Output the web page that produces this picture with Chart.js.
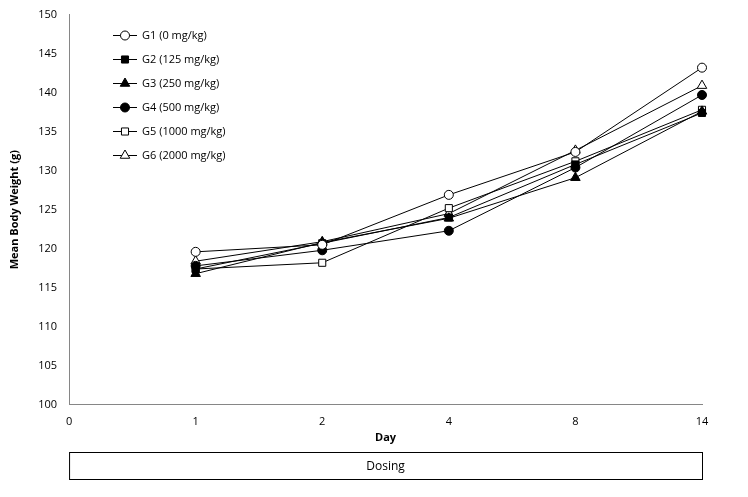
<!DOCTYPE html>
<html>
<head>
<meta charset="utf-8">
<script src="https://cdn.jsdelivr.net/npm/chart.js@4.4.1/dist/chart.umd.min.js"></script>
<style>
  html, body { margin: 0; padding: 0; background: #fff; }
  #wrap { width: 748px; height: 497px; position: relative; }
</style>
</head>
<body>
<div id="wrap"><canvas id="canvas" width="748" height="497"></canvas></div>
<script>
// data
var days = ['0', '1', '2', '4', '8', '14'];
var groupNames = ['G1 (0 mg/kg)', 'G2 (125 mg/kg)', 'G3 (250 mg/kg)', 'G4 (500 mg/kg)', 'G5 (1000 mg/kg)', 'G6 (2000 mg/kg)'];
var g1 = [null, 119.6, 120.5, 126.9, 132.4, 143.2];
var g2 = [null, 117.4, 120.7, 124.0, 130.8, 137.4];
var g3 = [null, 116.8, 120.8, 123.9, 129.1, 137.6];
var g4 = [null, 117.8, 119.8, 122.3, 130.4, 139.7];
var g5 = [null, 117.4, 118.2, 125.2, 131.2, 137.8];
var g6 = [null, 118.4, 120.9, 124.5, 132.6, 140.9];
var yTicks = [100, 105, 110, 115, 120, 125, 130, 135, 140, 145, 150];

var FONT = "'Open Sans', 'Liberation Sans', sans-serif";

var styles = [
  { pointStyle: 'circle', fill: '#ffffff', r: 4.5 },
  { pointStyle: 'rect', fill: '#000000', r: 5 },
  { pointStyle: 'triangle', fill: '#000000', r: 5.5 },
  { pointStyle: 'circle', fill: '#000000', r: 4.5 },
  { pointStyle: 'rect', fill: '#ffffff', r: 5 },
  { pointStyle: 'triangle', fill: '#ffffff', r: 5.5 }
];

var series = [g1, g2, g3, g4, g5, g6];
var datasets = series.map(function (vals, i) {
  return {
    label: groupNames[i],
    data: vals,
    borderColor: '#000000',
    borderWidth: 1,
    backgroundColor: styles[i].fill,
    pointStyle: styles[i].pointStyle,
    pointRadius: styles[i].r,
    pointHoverRadius: styles[i].r,
    pointBackgroundColor: styles[i].fill,
    pointBorderColor: '#000000',
    pointBorderWidth: 1,
    tension: 0,
    fill: false
  };
});

// legend inside the plot with a line through each marker
var insideLegend = {
  id: 'insideLegend',
  afterDraw: function (chart) {
    var ctx = chart.ctx;
    var x0 = 113, y0 = 35, step = 24;
    ctx.save();
    chart.data.datasets.forEach(function (ds, i) {
      var y = y0 + i * step;
      ctx.strokeStyle = '#000';
      ctx.lineWidth = 1;
      ctx.beginPath();
      ctx.moveTo(x0, y + 0.5);
      ctx.lineTo(x0 + 24, y + 0.5);
      ctx.stroke();
      ctx.fillStyle = ds.pointBackgroundColor;
      Chart.helpers.drawPoint(ctx, {
        pointStyle: ds.pointStyle,
        radius: ds.pointRadius,
        borderWidth: 1
      }, x0 + 12, y + 0.5);
      ctx.fillStyle = '#000';
      ctx.font = '11px ' + FONT;
      ctx.textBaseline = 'middle';
      ctx.textAlign = 'left';
      ctx.fillText(ds.label, x0 + 29, y + 0.5);
    });
    ctx.restore();
  }
};

// "Day" axis title and the "Dosing" period box under the x axis
var dosingBox = {
  id: 'dosingBox',
  afterDraw: function (chart) {
    var ctx = chart.ctx;
    var a = chart.chartArea;
    var mid = (a.left + a.right) / 2;
    var top = 452, h = 27;
    ctx.save();
    ctx.fillStyle = '#000';
    ctx.font = 'bold 11px ' + FONT;
    ctx.textAlign = 'center';
    ctx.textBaseline = 'middle';
    ctx.fillText('Day', mid, 438);
    ctx.strokeStyle = '#000';
    ctx.lineWidth = 1;
    ctx.strokeRect(a.left + 0.5, top + 0.5, a.right - a.left, h);
    ctx.font = '12px ' + FONT;
    ctx.fillText('Dosing', mid, top + h / 2 + 1);
    ctx.restore();
  }
};

var config = {
  type: 'line',
  data: { labels: days, datasets: datasets },
  options: {
    responsive: false,
    animation: false,
    layout: { padding: { left: 4, right: 46, top: 7, bottom: 59 } },
    plugins: {
      legend: { display: false },
      tooltip: { enabled: false }
    },
    scales: {
      x: {
        type: 'category',
        offset: false,
        grid: { display: false, drawTicks: false },
        border: { color: '#868686', width: 1 },
        ticks: { color: '#000', font: { family: FONT, size: 11 }, padding: 10, maxRotation: 0 },
        title: { display: false }
      },
      y: {
        min: 100,
        max: 150,
        afterBuildTicks: function (axis) {
          axis.ticks = yTicks.map(function (v) { return { value: v }; });
        },
        grid: { display: false, drawOnChartArea: false, drawTicks: true, tickLength: 4, tickColor: '#868686' },
        border: { color: '#868686', width: 1 },
        ticks: { color: '#000', font: { family: FONT, size: 11 }, padding: 8 },
        title: { display: true, text: 'Mean Body Weight (g)', color: '#000', font: { family: FONT, size: 11, weight: 'bold' }, padding: { bottom: 9 } }
      }
    }
  },
  plugins: [insideLegend, dosingBox]
};

window.onload = function () {
  window.myChart = new Chart(document.getElementById('canvas'), config);
};
</script>
</body>
</html>
